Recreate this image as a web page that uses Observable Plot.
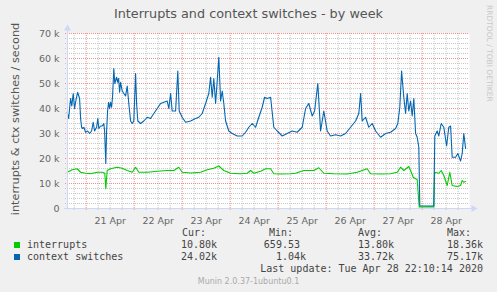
<!DOCTYPE html>
<html><head><meta charset="utf-8">
<script src="https://cdn.jsdelivr.net/npm/d3@7"></script>
<script src="https://cdn.jsdelivr.net/npm/@observablehq/plot@0.6"></script>
<style>
html,body{margin:0;padding:0;background:#F0F0F0;}
#wrap{position:relative;width:497px;height:292px;background:#F0F0F0;overflow:hidden;font-family:"DejaVu Sans",sans-serif;color:#666;}
#title{position:absolute;left:0;top:5px;width:497px;text-align:center;font-size:12.8px;line-height:17px;color:#555;}
#ylab{position:absolute;left:15px;top:119px;width:0;height:0;}
#ylab span{position:absolute;transform:translate(-50%,-50%) rotate(-90deg);white-space:nowrap;font-size:11.3px;color:#555;}
#wm{position:absolute;left:490px;top:5px;width:0;height:0;}
#wm span{position:absolute;left:0;top:0;transform-origin:0 0;transform:translate(4px,0) rotate(90deg);white-space:nowrap;font-size:7.5px;color:#c8c8c8;}
#chart{position:absolute;left:0;top:22px;}
.mono{position:absolute;font-family:"DejaVu Sans Mono",monospace;font-size:10px;line-height:12px;white-space:pre;color:#444;}
.sw{position:absolute;width:6px;height:6px;}
#munin{position:absolute;left:0;width:497px;top:276px;text-align:center;font-size:8px;line-height:11px;color:#aaa;}
</style>
</head><body>
<div id="wrap">
  <div id="title"></div>
  <div id="ylab"><span></span></div>
  <div id="wm"><span>RRDTOOL / TOBI OETIKER</span></div>
  <div id="chart"></div>
  <div id="legend"></div>
  <div id="munin"></div>
</div>
<script>
const titleText = "Interrupts and context switches - by week";
const yLabel = "interrupts & ctx switches / second";
// hours since 2020-04-20 00:00
const hoursCS = [14.5,15.2,16.2,16.8,17.5,18.2,18.8,19.7,20.3,20.7,
21.2,21.7,22.3,22.8,23.7,24.7,25.7,26.7,27.5,28.2,
29.2,29.8,30.3,31.2,32,32.8,33.2,33.8,34.2,34.7,
35.2,35.7,36.2,36.7,37.2,37.8,38.3,39.2,39.7,40.2,
40.7,41.2,42,43.7,44.5,45.3,46.2,47,47.8,48.7,
49.2,49.8,51.2,52.8,54.5,56.2,57.8,59.5,61.2,62.8,
64.5,65.3,66.2,67,68.7,69.8,70.5,72,73.7,76.2,
78.7,80.3,82,83.7,85.3,86.2,87,87.8,88.7,89.5,
90.3,91.2,92,92.8,93.7,95.3,97,99.5,102,103.7,
105.3,107,108.7,110.3,112,113.2,114.5,116.2,117.8,119.5,
122,124.5,127,129.5,132,133.7,135.3,137,138.2,139.8,
141.2,142.8,144.5,146.2,148.7,151.2,153.7,156.2,158.7,160.3,
161.2,162,163.7,165.3,167,168.7,171.2,173.7,176.2,178.7,
179.8,180.8,181.7,182.8,183.7,184.5,185.3,186.2,187,187.8,
188.7,189.5,190.3,190.8,197.8,198.3,199.5,200.3,201.5,202.8,
204.2,205.3,206.2,207,208.7,209.8,211.2,212,212.8,213.7];
// context switches, thousands per second
const ctxSwitches = [38.5,36,44,41,46,40,43,46.5,45,44,
36,32.5,32,32.5,30.5,31,30,31,34.5,31,
32.5,36,32,33,33,34,31,18,31,39,
42.5,40,42.5,40.5,45,56,50,52.5,50.5,52,
46.5,50.5,47,45,49,42,35,34,35,54,
42,35,34,35,36.5,36,38,40,42,42.5,
43,40,46,39,39,55,39,36.5,34.5,35,
36,36.5,38,42,46,52.5,44.5,52,42,51,
60.5,43,47,42,35,31,30,29,29,30.5,
32.5,34,32.5,36.5,40.5,44.5,44,44.5,32.5,31,
29,30,31,30.5,32.5,40,42,37,39,50,
31,39,31,29,29.5,29,30,32.5,35,38,
46,35,36.5,32.5,34,31,28.5,30,30.5,32,
34,40.5,55,44.5,38,46,39,43,37,44,
30,28.5,24.5,1.1,1.0,29,31,29,34,32.5,
25,32.5,33,20.5,20.5,22,19,22,30,24];
const hoursInt = [14.5,17,19.5,21.2,23.7,26.2,29.5,32,33.3,33.8,
34.5,36.2,39.5,42,44.5,47,48.7,50.3,54.5,59.5,
64.5,67.8,70.3,72,76.2,81.2,84.5,87.8,90.3,92.8,
96.2,101.2,104.5,106.2,107.8,111.2,113.7,116.2,117.8,121.2,
126.2,128.7,132.8,137.8,140.3,142.8,147.8,154.5,159.5,164.5,
166.2,171.2,176.2,179.5,181.2,182.8,185.3,186.2,187.5,189.5,
190.5,197.8,198.2,200.3,201.5,202.8,204.5,205.8,207,209.5,
211.2,212,212.8,213.7];
// interrupts, thousands per second
const interrupts = [14.5,15.5,15.9,14.5,14.1,13.9,14.5,14.5,14.1,7.9,
15.2,15.9,16.5,16.1,15.2,14.5,16.5,14.5,14.5,14.9,
15.2,15.2,16.5,14.5,14.2,14.5,15.5,16.1,17,15.2,
14.1,13.9,14.1,15.2,14.1,14.9,15.9,15.9,13.9,13.8,
13.9,14.1,15.2,15.2,16.3,14.1,13.9,13.8,14.5,15.9,
13.9,13.8,13.9,14.5,16.5,15.2,16.8,15.2,12.5,11.5,
0.66,0.66,14.5,14.1,15.2,13.2,9.2,14.5,9.2,8.8,
9.2,11.2,10.5,10.8];
const xDomain = [14.65, 215.65];
const yTicks = [0,10,20,30,40,50,60,70];
const yTickLabels = ["0","10 k","20 k","30 k","40 k","50 k","60 k","70 k"];
const dayTicks = [36,60,84,108,132,156,180,204];
const dayLabels = ["21 Apr","22 Apr","23 Apr","24 Apr","25 Apr","26 Apr","27 Apr","28 Apr"];
const midnights = [24,48,72,96,120,144,168,192];
const sixHours = d3.range(18, 216, 6).filter(h => h % 24 !== 0);
const minorY = d3.range(2, 70, 2).filter(v => v % 10 !== 0);
const majorY = [10,20,30,40,50,60,70];
const seriesNames = ["interrupts","context switches"];
const seriesColors = ["#00CC00","#0066B3"];
const statHeads = ["Cur:","Min:","Avg:","Max:"];
const statsInt = ["10.80k","659.53 ","13.80k","18.36k"];
const statsCS = ["24.02k","  1.04k","33.72k","75.17k"];
const lastUpdate = "Last update: Tue Apr 28 22:10:14 2020";
const muninVersion = "Munin 2.0.37-1ubuntu0.1";

document.getElementById("title").textContent = titleText;
document.querySelector("#ylab span").textContent = yLabel;
document.getElementById("munin").textContent = muninVersion;

const csData = hoursCS.map((h,i)=>({h, v: ctxSwitches[i]}));
const intData = hoursInt.map((h,i)=>({h, v: interrupts[i]}));
const axisCol = "#CFD6F8";

const chart = Plot.plot({
  width: 497, height: 206,
  marginLeft: 67, marginRight: 28, marginTop: 11, marginBottom: 20,
  style: {background: "transparent", fontFamily: "DejaVu Sans", fontSize: "9.5px", color: "#666"},
  x: {domain: xDomain, axis: null},
  y: {domain: [0, 70], axis: null},
  marks: [
    Plot.frame({fill: "white", stroke: null}),
    Plot.ruleY(minorY, {stroke: "#c8c8c8", strokeDasharray: "1,1", insetLeft: -2}),
    Plot.ruleX(sixHours, {stroke: "#c8c8c8", strokeDasharray: "1,1", insetBottom: -2}),
    Plot.ruleY(majorY, {stroke: "#f09090", strokeDasharray: "1,1", insetLeft: -2}),
    Plot.ruleX(midnights, {stroke: "#f09090", strokeDasharray: "1,1", insetBottom: -3}),
    Plot.axisY({ticks: yTicks, tickFormat: (d,i) => yTickLabels[yTicks.indexOf(d)], tickSize: 0, tickPadding: 8, label: null, fill: "#666"}),
    Plot.axisX({ticks: dayTicks, tickFormat: d => dayLabels[dayTicks.indexOf(d)], tickSize: 0, tickPadding: 9, label: null, fill: "#666"}),
    Plot.lineY(intData, {x: "h", y: "v", stroke: seriesColors[0], strokeWidth: 1.1}),
    Plot.lineY(csData, {x: "h", y: "v", stroke: seriesColors[1], strokeWidth: 1.1}),
    Plot.ruleX([xDomain[0]], {stroke: axisCol, insetTop: -4, insetBottom: -2}),
    Plot.ruleY([0], {stroke: axisCol, insetLeft: -3, insetRight: -3}),
    Plot.dot([0], {x: xDomain[0], y: 70, symbol: "triangle", r: 2.6, fill: axisCol, stroke: null, dy: -5}),
    Plot.dot([0], {x: xDomain[1], y: 0, symbol: "triangle", r: 2.6, fill: axisCol, stroke: null, dx: 4, rotate: 90})
  ]
});
document.getElementById("chart").appendChild(chart);

// legend
const lg = document.getElementById("legend");
function addText(txt, left, right, top) {
  const d = document.createElement("div");
  d.className = "mono";
  d.textContent = txt;
  if (left != null) d.style.left = left + "px";
  if (right != null) d.style.right = (497 - right) + "px";
  d.style.top = top + "px";
  lg.appendChild(d);
}
const headLeft = [182, 269, 358, 447];
const colRight = [217, 306, 394, 483];
statHeads.forEach((t,i)=>addText(t, headLeft[i], null, 227));
const rowsTop = [239, 251];
const stats = [statsInt, statsCS];
seriesNames.forEach((n,r)=>{
  const sw = document.createElement("div");
  sw.className = "sw";
  sw.style.left = "14px"; sw.style.top = (rowsTop[r] + 3) + "px";
  sw.style.background = seriesColors[r];
  lg.appendChild(sw);
  addText(n, 27, null, rowsTop[r]);
  stats[r].forEach((s,i)=>addText(s, null, colRight[i], rowsTop[r]));
});
addText(lastUpdate, null, 483, 263);
</script>
</body></html>
